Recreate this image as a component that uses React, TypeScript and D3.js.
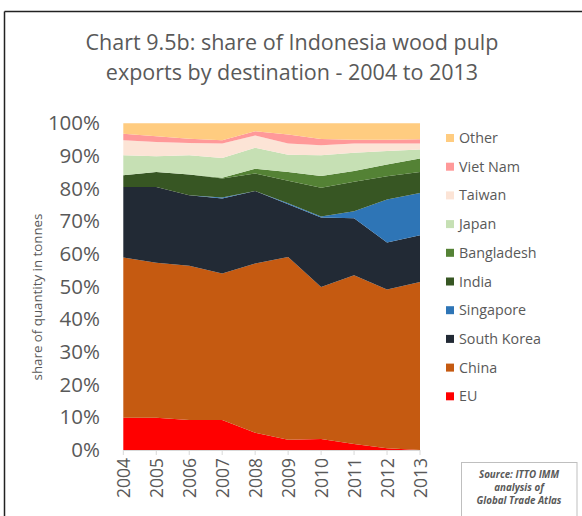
import React from "react";
import * as d3 from "d3";

const years = [2004, 2005, 2006, 2007, 2008, 2009, 2010, 2011, 2012, 2013];
const seriesNames = ["EU", "China", "South Korea", "Singapore", "India", "Bangladesh", "Japan", "Taiwan", "Viet Nam", "Other"];
const EU = [9.9, 9.9, 9.2, 9.2, 5.3, 3.1, 3.4, 1.8, 0.5, 0];
const China = [49.0, 47.4, 47.2, 44.8, 51.8, 56.0, 46.5, 51.7, 48.6, 51.4];
const SouthKorea = [21.6, 23.2, 21.6, 23.0, 22.2, 16.1, 21.3, 17.4, 14.4, 14.3];
const Singapore = [0, 0, 0, 0.3, 0, 0.3, 0.3, 2.2, 13.2, 13.0];
const India = [3.6, 4.6, 6.3, 5.8, 5.3, 6.9, 8.8, 9.0, 7.1, 6.4];
const Bangladesh = [0, 0, 0, 0.2, 1.5, 2.7, 3.6, 3.3, 3.6, 4.1];
const Japan = [6.1, 4.8, 5.9, 6.1, 6.4, 5.3, 6.3, 5.6, 4.1, 2.8];
const Taiwan = [4.6, 4.4, 3.8, 4.4, 3.8, 3.4, 3.1, 2.8, 2.3, 1.8];
const VietNam = [2.0, 1.7, 1.3, 1.0, 1.3, 2.8, 1.9, 1.2, 1.2, 1.3];
const Other = [3.2, 4.0, 4.7, 5.2, 2.4, 3.4, 4.8, 5.0, 5.0, 4.9];
const yTicks = [0, 10, 20, 30, 40, 50, 60, 70, 80, 90, 100];
const sourceLines = ["Source: ITTO IMM", "analysis of", "Global Trade Atlas"];

const seriesValues = [EU, China, SouthKorea, Singapore, India, Bangladesh, Japan, Taiwan, VietNam, Other];
const colors = ["#FF0000", "#C55A11", "#222A35", "#2E75B6", "#375623", "#548235", "#C6E0B4", "#FCE4D6", "#FF9999", "#FFCC80"];

const FONT = "'Open Sans', 'Noto Sans', sans-serif";

export default function App() {
  const W = 582, H = 516;
  const x = d3.scaleLinear().domain([2004, 2013]).range([123.3, 420]);
  const y = d3.scaleLinear().domain([0, 100]).range([450, 123.3]);

  const table = years.map((yr, i) => {
    const row: any = { year: yr };
    seriesNames.forEach((n, j) => (row[n] = seriesValues[j][i]));
    return row;
  });
  const stacked = d3.stack().keys(seriesNames)(table);
  const area = d3
    .area<any>()
    .x((d) => x(d.data.year))
    .y0((d) => y(d[0]))
    .y1((d) => y(Math.min(100, d[1])));

  const legendOrder = [...seriesNames].reverse();

  return (
    <svg width={W} height={H} style={{ position: "absolute", left: 0, top: 0, background: "#fff" }}>
      <rect x={0} y={0} width={W} height={H} fill="#fff" />
      {/* outer frame */}
      <line x1={4.5} y1={11.5} x2={W} y2={11.5} stroke="#222" strokeWidth={1.5} />
      <line x1={4.5} y1={11.5} x2={4.5} y2={H} stroke="#222" strokeWidth={1.5} />

      {/* title */}
      <text x={292} y={50} textAnchor="middle" fontFamily={FONT} fontSize={21.5} fill="#595959">
        Chart 9.5b: share of Indonesia wood pulp
      </text>
      <text x={292} y={80} textAnchor="middle" fontFamily={FONT} fontSize={21.5} fill="#595959">
        exports by destination - 2004 to 2013
      </text>

      {/* areas */}
      {stacked.map((s, j) => (
        <path key={s.key} d={area(s) || ""} fill={colors[j]} stroke="none" />
      ))}

      {/* x axis */}
      <line x1={x(2004)} x2={x(2013)} y1={450.5} y2={450.5} stroke="#D9D9D9" strokeWidth={1} />
      {years.map((yr) => (
        <g key={yr}>
          <line x1={x(yr)} x2={x(yr)} y1={450} y2={455} stroke="#D9D9D9" />
          <text
            transform={`translate(${x(yr) + 6.5},458) rotate(-90)`}
            textAnchor="end"
            fontFamily={FONT}
            fontSize={17.5}
            fill="#595959"
          >
            {yr}
          </text>
        </g>
      ))}

      {/* y ticks */}
      {yTicks.map((t) => (
        <text key={t} x={100} y={y(t) + 7} textAnchor="end" fontFamily={FONT} fontSize={20.5} fill="#595959">
          {t}%
        </text>
      ))}

      {/* y title */}
      <text
        transform={`translate(42,297) rotate(-90)`}
        textAnchor="middle"
        fontFamily={FONT}
        fontSize={13.3}
        fill="#595959"
      >
        share of quantity in tonnes
      </text>

      {/* legend */}
      {legendOrder.map((n, i) => {
        const cy = 138 + i * 28.7;
        const j = seriesNames.indexOf(n);
        return (
          <g key={n}>
            <rect x={446} y={cy - 4} width={8} height={8} fill={colors[j]} />
            <text x={459} y={cy + 5} fontFamily={FONT} fontSize={14.3} fill="#595959">
              {n}
            </text>
          </g>
        );
      })}

      {/* source box */}
      <rect x={461.5} y={462.5} width={115.5} height={60} fill="#fff" stroke="#BFBFBF" strokeWidth={1} />
      {sourceLines.map((t, i) => (
        <text
          key={i}
          x={519}
          y={478 + i * 13}
          textAnchor="middle"
          fontFamily={FONT}
          fontSize={9.8}
          fontStyle="italic"
          fontWeight="bold"
          fill="#595959"
        >
          {t}
        </text>
      ))}
    </svg>
  );
}
